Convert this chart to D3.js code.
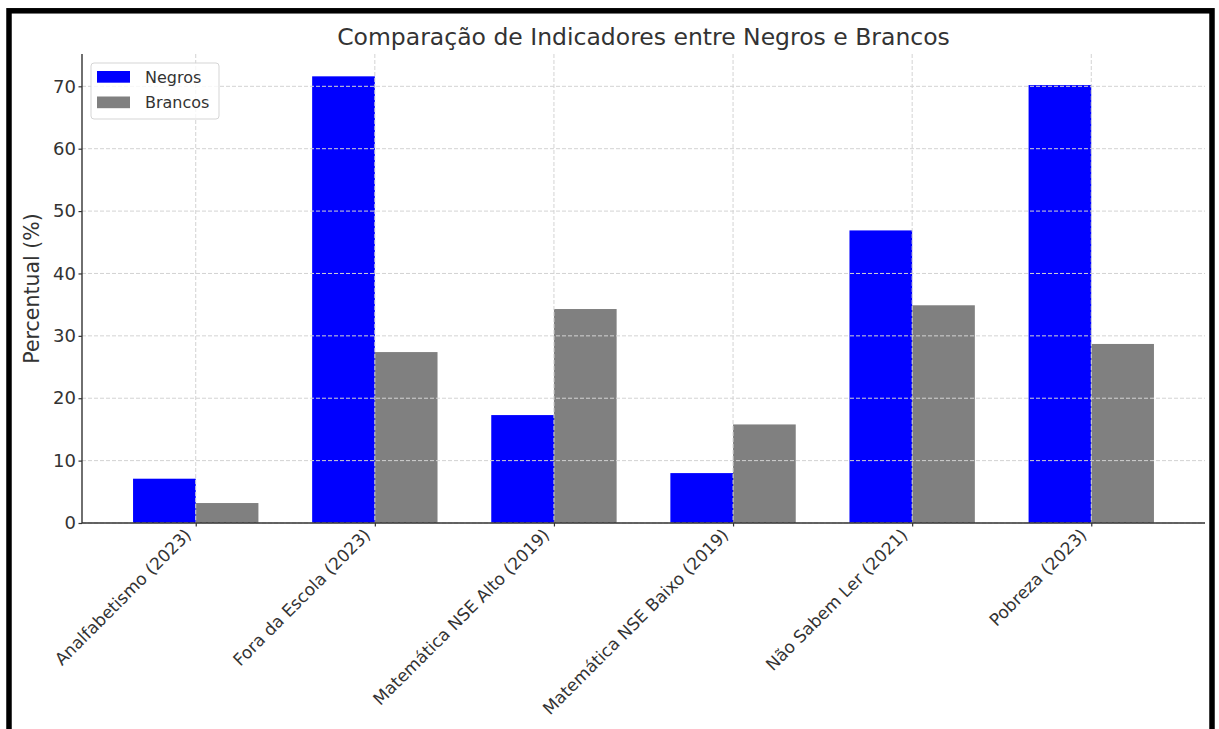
<!DOCTYPE html>
<html>
<head>
<meta charset="utf-8">
<script src="https://cdn.jsdelivr.net/npm/d3@7"></script>
<style>
  body { margin: 0; background: #fff; }
  svg { display: block; font-family: "DejaVu Sans", sans-serif; }
</style>
</head>
<body>
<svg id="chart" width="1219" height="729"></svg>
<script>
// values
const categories = [
  'Analfabetismo (2023)',
  'Fora da Escola (2023)',
  'Matemática NSE Alto (2019)',
  'Matemática NSE Baixo (2019)',
  'Não Sabem Ler (2021)',
  'Pobreza (2023)'
];
const negros = [7.1, 71.6, 17.3, 8.0, 46.9, 70.2];
const brancos = [3.2, 27.4, 34.3, 15.8, 34.9, 28.7];
const yTicks = [0, 10, 20, 30, 40, 50, 60, 70];

const series = [
  { name: 'Negros', values: negros, color: '#0000ff', offset: -1 },
  { name: 'Brancos', values: brancos, color: '#808080', offset: 0 },
];

const W = 1219, H = 729;
const plot = { left: 82, right: 1205, top: 54, bottom: 523 };
const barW = 0.35;
const textColor = '#333';
const gridColor = '#d3d3d3';

const svg = d3.select('#chart');

// outer frame
svg.append('rect')
  .attr('x', 9).attr('y', 10.8)
  .attr('width', 1203).attr('height', 800)
  .attr('fill', 'none')
  .attr('stroke', '#000')
  .attr('stroke-width', 5.5);

const n = categories.length;
const xPad = (n - 1 + 2 * barW) * 0.05;
const x = d3.scaleLinear()
  .domain([-barW - xPad, n - 1 + barW + xPad])
  .range([plot.left, plot.right]);

const yMax = d3.max(negros.concat(brancos)) * 1.05;
const y = d3.scaleLinear()
  .domain([0, yMax])
  .range([plot.bottom, plot.top]);

// bars
for (const s of series) {
  svg.append('g')
    .selectAll('rect')
    .data(s.values)
    .join('rect')
      .attr('x', (d, i) => x(i + s.offset * barW))
      .attr('width', x(barW) - x(0))
      .attr('y', d => y(d))
      .attr('height', d => y(0) - y(d))
      .attr('fill', s.color);
}

// grid (drawn over the bars, as in the reference)
const grid = svg.append('g')
  .attr('stroke', gridColor)
  .attr('stroke-width', 1)
  .attr('stroke-dasharray', '4,2');

grid.selectAll('line.h')
  .data(yTicks)
  .join('line')
    .attr('class', 'h')
    .attr('x1', plot.left).attr('x2', plot.right)
    .attr('y1', d => y(d)).attr('y2', d => y(d));

grid.selectAll('line.v')
  .data(categories)
  .join('line')
    .attr('class', 'v')
    .attr('x1', (d, i) => x(i)).attr('x2', (d, i) => x(i))
    .attr('y1', plot.top).attr('y2', plot.bottom);

// axes
const yAxis = d3.axisLeft(y)
  .tickValues(yTicks)
  .tickSize(3.5)
  .tickPadding(2.5);

const yG = svg.append('g')
  .attr('transform', 'translate(' + plot.left + ',0)')
  .call(yAxis);

const xAxis = d3.axisBottom(x)
  .tickValues(d3.range(n))
  .tickFormat(i => categories[i])
  .tickSize(3.5);

const xG = svg.append('g')
  .attr('transform', 'translate(0,' + plot.bottom + ')')
  .call(xAxis);

for (const g of [xG, yG]) {
  g.select('.domain').remove();
  g.selectAll('line').attr('stroke', '#333').attr('stroke-width', 1.2);
  g.selectAll('text')
    .attr('fill', textColor)
    .style('font-size', '18px')
    .style('font-family', '"DejaVu Sans", sans-serif');
}

xG.selectAll('text')
  .attr('x', 0).attr('y', 0).attr('dy', 0)
  .attr('transform', 'translate(-4,13) rotate(-45)')
  .style('text-anchor', 'end')
  .style('font-size', '17px');

// spines (left and bottom only)
svg.append('line')
  .attr('x1', plot.left).attr('x2', plot.left)
  .attr('y1', plot.top).attr('y2', plot.bottom)
  .attr('stroke', '#333').attr('stroke-width', 1.4);
svg.append('line')
  .attr('x1', plot.left).attr('x2', plot.right)
  .attr('y1', plot.bottom).attr('y2', plot.bottom)
  .attr('stroke', '#333').attr('stroke-width', 1.4);

// title and y label
svg.append('text')
  .attr('x', (plot.left + plot.right) / 2)
  .attr('y', 45)
  .attr('text-anchor', 'middle')
  .attr('fill', textColor)
  .style('font-size', '23.5px')
  .text('Comparação de Indicadores entre Negros e Brancos');

svg.append('text')
  .attr('transform', 'translate(39,' + ((plot.top + plot.bottom) / 2) + ') rotate(-90)')
  .attr('text-anchor', 'middle')
  .attr('fill', textColor)
  .style('font-size', '20.5px')
  .text('Percentual (%)');

// legend
const legend = svg.append('g').attr('transform', 'translate(91,63)');
legend.append('rect')
  .attr('width', 128).attr('height', 56)
  .attr('rx', 3)
  .attr('fill', '#fff').attr('fill-opacity', 0.8)
  .attr('stroke', '#d5d5d5').attr('stroke-width', 1);

const item = legend.selectAll('g.item')
  .data(series)
  .join('g')
    .attr('class', 'item')
    .attr('transform', (d, i) => 'translate(6,' + (8 + i * 25.5) + ')');

item.append('rect')
  .attr('width', 33).attr('height', 11.7)
  .attr('fill', d => d.color);

item.append('text')
  .attr('x', 48).attr('y', 11.5)
  .attr('fill', textColor)
  .style('font-size', '16px')
  .text(d => d.name);
</script>
</body>
</html>
